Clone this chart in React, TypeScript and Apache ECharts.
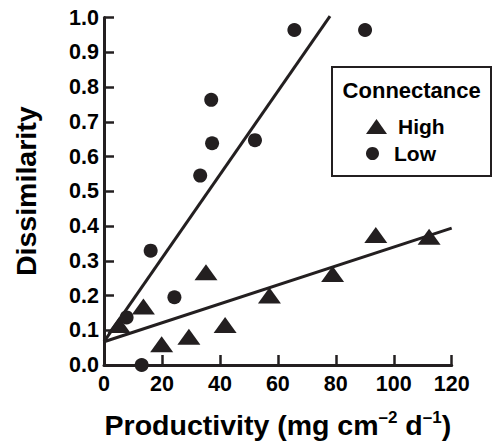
import React, { useEffect, useRef } from "react";
import * as echarts from "echarts";

const highX = [5.2, 13.6, 19.9, 29.3, 35.2, 41.8, 57.1, 78.9, 93.8, 112.2];
const highY = [0.115, 0.168, 0.06, 0.081, 0.267, 0.115, 0.2, 0.262, 0.374, 0.369];
const lowX = [13.0, 7.8, 16.1, 24.3, 33.2, 37.3, 37.0, 52.1, 65.7, 90.1];
const lowY = [0.0, 0.137, 0.329, 0.195, 0.545, 0.638, 0.763, 0.647, 0.964, 0.964];
const lowFitX = [0, 78];
const lowFitY = [0.067, 1.004];
const highFitX = [0, 120];
const highFitY = [0.067, 0.394];
const xTicks = [0, 20, 40, 60, 80, 100, 120];
const yTicks = [0, 0.1, 0.2, 0.3, 0.4, 0.5, 0.6, 0.7, 0.8, 0.9, 1.0];

const INK = "#231f20";
const FONT = "'Liberation Sans', Arial, sans-serif";

const zip = (xs: number[], ys: number[]) => xs.map((x, i) => [x, ys[i]]);

export default function App() {
  const ref = useRef<HTMLDivElement>(null);
  useEffect(() => {
    document.body.style.margin = "0";
    if (!ref.current) return;
    const chart = echarts.init(ref.current, null, { renderer: "svg" });
    chart.setOption({
      animation: false,
      backgroundColor: "#ffffff",
      textStyle: { fontFamily: FONT },
      grid: { left: 104, right: 41.3, top: 17.5, bottom: 81 },
      xAxis: {
        type: "value",
        min: xTicks[0],
        max: xTicks[xTicks.length - 1],
        interval: 20,
        splitLine: { show: false },
        axisLine: { lineStyle: { color: INK, width: 3 } },
        axisTick: { inside: true, length: 10, lineStyle: { color: INK, width: 2.5 } },
        axisLabel: { color: "#000", fontSize: 21.5, fontWeight: "bold", fontFamily: FONT, margin: 8 },
        name: "{m|Productivity (mg cm}{s|–2}{m| d}{s|–1}{m|)}",
        nameLocation: "middle",
        nameGap: 44,
        nameTextStyle: {
          rich: {
            m: { fontSize: 28.5, fontWeight: "bold", fontFamily: FONT, color: "#000", lineHeight: 32 },
            s: { fontSize: 17, fontWeight: "bold", fontFamily: FONT, color: "#000", lineHeight: 22, verticalAlign: "top" },
          },
        },
      },
      yAxis: {
        type: "value",
        min: yTicks[0],
        max: yTicks[yTicks.length - 1],
        interval: 0.1,
        splitLine: { show: false },
        axisLine: { lineStyle: { color: INK, width: 3 } },
        axisTick: { inside: true, length: 10, lineStyle: { color: INK, width: 2.5 } },
        axisLabel: {
          color: "#000",
          fontSize: 21.5,
          fontWeight: "bold",
          fontFamily: FONT,
          margin: 5,
          formatter: (v: number) => v.toFixed(1),
        },
        name: "Dissimilarity",
        nameLocation: "middle",
        nameGap: 64,
        nameTextStyle: { fontSize: 28.5, fontWeight: "bold", fontFamily: FONT, color: "#000" },
      },
      legend: [
        {
          data: [{ name: "High", icon: "triangle", itemStyle: { color: INK, opacity: 1 } }],
          left: 366,
          top: 116,
          padding: 0,
          itemWidth: 21,
          itemHeight: 15,
          itemGap: 0,
          selectedMode: false,
          textStyle: { fontSize: 21, fontWeight: "bold", fontFamily: FONT, color: "#000", padding: [0, 0, 0, 6] },
        },
        {
          data: [{ name: "Low", icon: "circle", itemStyle: { color: INK, opacity: 1 } }],
          left: 366,
          top: 143,
          padding: 0,
          itemWidth: 21,
          itemHeight: 13,
          itemGap: 0,
          selectedMode: false,
          textStyle: { fontSize: 21, fontWeight: "bold", fontFamily: FONT, color: "#000", padding: [0, 0, 0, 6] },
        },
      ],
      graphic: [
        {
          type: "rect",
          shape: { x: 332, y: 67, width: 159, height: 109 },
          style: { fill: "transparent", stroke: INK, lineWidth: 2 },
        },
        {
          type: "text",
          x: 411.7,
          y: 90,
          style: {
            text: "Connectance",
            fontSize: 22,
            fontWeight: "bold",
            fontFamily: FONT,
            fill: "#000",
            align: "center",
            verticalAlign: "middle",
          },
        },
      ],
      series: [
        {
          name: "High",
          type: "scatter",
          symbol: "triangle",
          symbolSize: [23, 16],
          itemStyle: { color: INK, opacity: 1 },
          data: zip(highX, highY),
          z: 3,
        },
        {
          name: "Low",
          type: "scatter",
          symbol: "circle",
          symbolSize: 14,
          itemStyle: { color: INK, opacity: 1 },
          data: zip(lowX, lowY),
          z: 3,
        },
        {
          name: "Low fit",
          type: "line",
          showSymbol: false,
          symbol: "none",
          clip: false,
          lineStyle: { color: INK, width: 3 },
          data: zip(lowFitX, lowFitY),
          z: 2,
        },
        {
          name: "High fit",
          type: "line",
          showSymbol: false,
          symbol: "none",
          clip: false,
          lineStyle: { color: INK, width: 3 },
          data: zip(highFitX, highFitY),
          z: 2,
        },
      ],
    });
    return () => chart.dispose();
  }, []);
  return <div ref={ref} style={{ width: 493, height: 446 }} />;
}
